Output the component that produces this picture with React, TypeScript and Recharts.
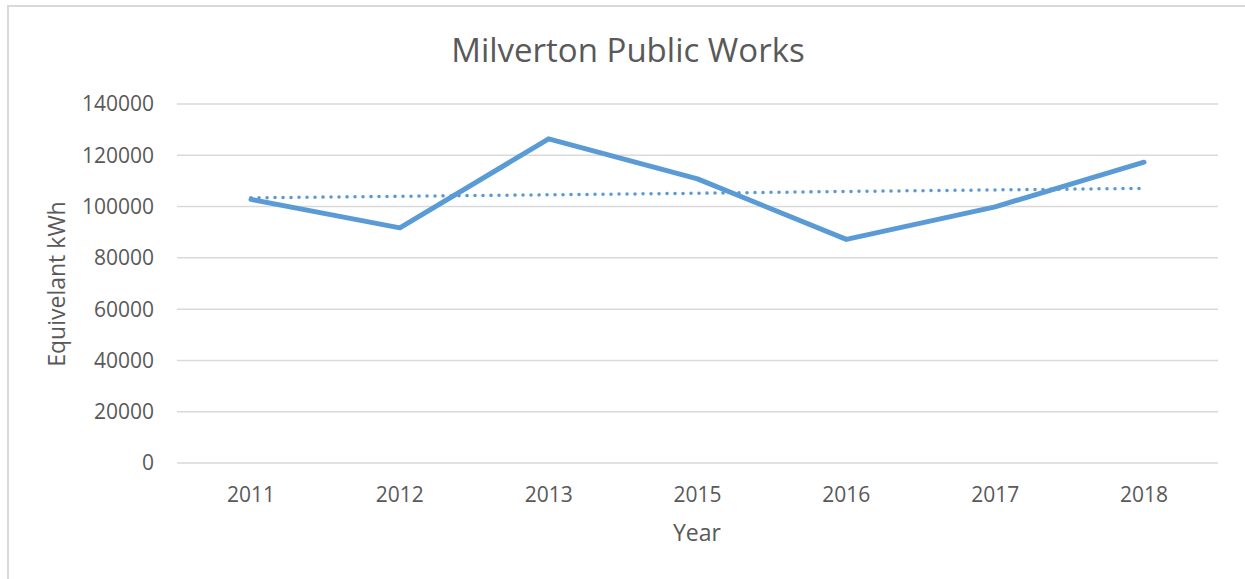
import { CartesianGrid, Line, LineChart, XAxis, YAxis } from "recharts";

const years = ["2011", "2012", "2013", "2015", "2016", "2017", "2018"];
const usage = [102800, 91700, 126400, 110800, 87200, 99900, 117300];
const trend = [103400, 104000, 104600, 105200, 105900, 106500, 107100];
const yTicks = [0, 20000, 40000, 60000, 80000, 100000, 120000, 140000];

const data = years.map((year, i) => ({
  year,
  usage: usage[i],
  trend: trend[i],
}));

const font = "'Open Sans', sans-serif";
const textColor = "#595959";
const lineColor = "#5b9bd5";

function App() {
  return (
    <div
      style={{
        position: "fixed",
        left: 0,
        top: 0,
        width: 1245,
        height: 579,
        background: "#fff",
        overflow: "hidden",
        fontFamily: font,
      }}
    >
      <div
        style={{
          position: "absolute",
          left: 7,
          top: 5,
          width: 1300,
          height: 640,
          borderLeft: "2px solid #d9d9d9",
          borderTop: "2px solid #d9d9d9",
        }}
      />
      <LineChart
        width={1245}
        height={579}
        data={data}
        margin={{ top: 104, right: 27, left: 77, bottom: 56 }}
        style={{ position: "absolute", left: 0, top: 0 }}
      >
        <CartesianGrid
          vertical={false}
          stroke="#d9d9d9"
          strokeWidth={1.5}
        />
        <XAxis
          dataKey="year"
          height={60}
          padding={{ left: 74, right: 74 }}
          axisLine={false}
          tickLine={false}
          tickSize={0}
          tickMargin={24}
          tick={{ fill: textColor, fontSize: 21, fontFamily: font }}
        />
        <YAxis
          width={100}
          domain={[0, 140000]}
          ticks={yTicks}
          axisLine={false}
          tickLine={false}
          tickSize={0}
          tickMargin={23}
          tick={{ fill: textColor, fontSize: 21, fontFamily: font }}
        />
        <Line
          type="linear"
          dataKey="trend"
          stroke={lineColor}
          strokeWidth={3.5}
          strokeDasharray="0.1 7.9"
          strokeLinecap="round"
          dot={false}
          activeDot={false}
          isAnimationActive={false}
        />
        <Line
          type="linear"
          dataKey="usage"
          stroke={lineColor}
          strokeWidth={5}
          strokeLinecap="round"
          strokeLinejoin="round"
          dot={false}
          activeDot={false}
          isAnimationActive={false}
        />
      </LineChart>
      <svg
        width={1245}
        height={579}
        style={{ position: "absolute", left: 0, top: 0, pointerEvents: "none" }}
      >
        <text
          x={628}
          y={62}
          textAnchor="middle"
          fill={textColor}
          fontSize={33}
          fontFamily={font}
        >
          Milverton Public Works
        </text>
        <text
          x={697}
          y={541}
          textAnchor="middle"
          fill={textColor}
          fontSize={23}
          fontFamily={font}
        >
          Year
        </text>
        <text
          x={65}
          y={284}
          transform="rotate(-90 65 284)"
          textAnchor="middle"
          fill={textColor}
          fontSize={23}
          fontFamily={font}
        >
          Equivelant kWh
        </text>
      </svg>
    </div>
  );
}

export default App;
